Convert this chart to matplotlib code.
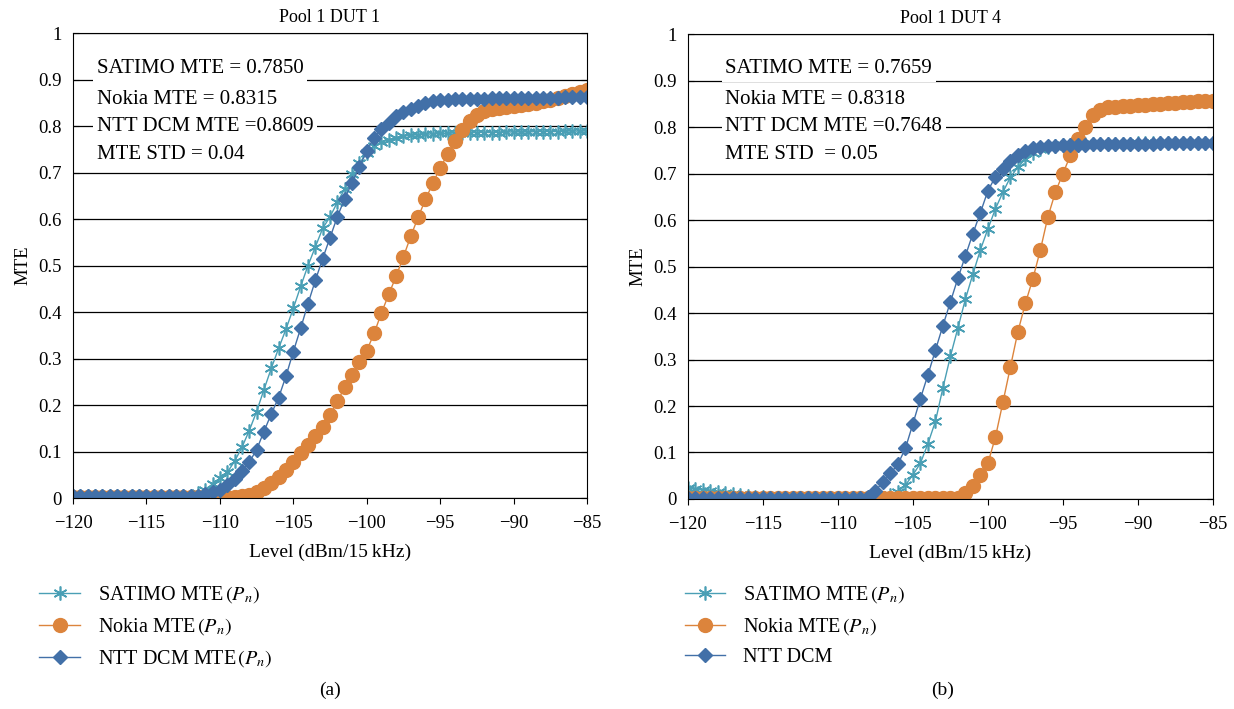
import numpy as np
import matplotlib
matplotlib.use("Agg")
import matplotlib.pyplot as plt
from matplotlib.ticker import FuncFormatter

plt.rcParams['font.family'] = ['Liberation Serif', 'DejaVu Serif']
plt.rcParams['mathtext.fontset'] = 'stix'

# level axis, 0.5 dB steps
level = np.arange(-120, -84.9, 0.5)

# (a) Pool 1 DUT 1
sat_a = [0.005] * 17 + [
    0.01, 0.018, 0.03, 0.042, 0.055, 0.079, 0.109, 0.145, 0.186, 0.233,
    0.279, 0.322, 0.363, 0.408, 0.455, 0.50, 0.54, 0.58, 0.605, 0.636,
    0.665, 0.697, 0.72, 0.742, 0.756, 0.765, 0.771, 0.775, 0.778, 0.78,
    0.781, 0.782, 0.783, 0.784] + [
    0.784, 0.785, 0.785, 0.785, 0.786, 0.786, 0.786, 0.786, 0.787, 0.787,
    0.787, 0.787, 0.788, 0.788, 0.788, 0.788, 0.789, 0.789, 0.789, 0.789]
nok_a = [0.002] * 23 + [
    0.004, 0.007, 0.013, 0.022, 0.032, 0.045, 0.06, 0.078, 0.096, 0.114,
    0.134, 0.153, 0.178, 0.208, 0.238, 0.265, 0.292, 0.317, 0.354, 0.398,
    0.438, 0.477, 0.519, 0.563, 0.604, 0.642, 0.677, 0.71, 0.739, 0.767,
    0.792, 0.81, 0.824, 0.832] + [
    0.836, 0.839, 0.841, 0.843, 0.845, 0.847, 0.85, 0.853, 0.857, 0.861,
    0.865, 0.869, 0.873, 0.877]
ntt_a = [0.005] * 18 + [
    0.008, 0.012, 0.018, 0.028, 0.04, 0.057, 0.077, 0.104, 0.143, 0.181,
    0.216, 0.262, 0.315, 0.365, 0.418, 0.468, 0.515, 0.56, 0.605, 0.644,
    0.678, 0.712, 0.746, 0.775, 0.793, 0.807, 0.821, 0.83, 0.837, 0.844,
    0.849, 0.853, 0.856] + [
    0.857, 0.858, 0.858, 0.859, 0.859, 0.859, 0.86, 0.86, 0.86, 0.86,
    0.86, 0.861, 0.861, 0.861, 0.861, 0.861, 0.862, 0.862, 0.862, 0.862]

# (b) Pool 1 DUT 4
sat_b = [0.023, 0.021, 0.019, 0.017, 0.015, 0.013, 0.011, 0.009, 0.007, 0.005,
         0.004, 0.003, 0.003] + [0.002] * 14 + [
    0.008, 0.016, 0.03, 0.052, 0.077, 0.119, 0.167, 0.239, 0.307, 0.368,
    0.43, 0.484, 0.536, 0.581, 0.624, 0.66, 0.692, 0.714, 0.731, 0.745,
    0.753, 0.757, 0.759, 0.761] + [
    0.762, 0.762, 0.763, 0.763, 0.763, 0.764, 0.764, 0.764, 0.764, 0.765,
    0.765, 0.765, 0.765, 0.765, 0.766, 0.766, 0.766, 0.766, 0.766, 0.766]
nok_b = [0.002] * 36 + [
    0.003, 0.012, 0.028, 0.052, 0.077, 0.133, 0.208, 0.284, 0.36, 0.421,
    0.474, 0.536, 0.607, 0.66, 0.70, 0.739, 0.774, 0.801, 0.825, 0.837,
    0.842] + [
    0.844, 0.845, 0.846, 0.847, 0.848, 0.849, 0.85, 0.851, 0.852, 0.853,
    0.854, 0.855, 0.856, 0.857]
ntt_b = [0.002] * 24 + [
    0.004, 0.018, 0.036, 0.055, 0.075, 0.109, 0.162, 0.216, 0.267, 0.32,
    0.373, 0.424, 0.475, 0.523, 0.571, 0.616, 0.663, 0.693, 0.71, 0.727,
    0.74, 0.749, 0.754, 0.757, 0.759, 0.76, 0.761] + [
    0.762, 0.762, 0.762, 0.763, 0.763, 0.763, 0.763, 0.764, 0.764, 0.764,
    0.764, 0.764, 0.765, 0.765, 0.765, 0.765, 0.765, 0.765, 0.765, 0.765]

titles = ["Pool 1 DUT 1", "Pool 1 DUT 4"]
notes_a = ["SATIMO MTE = 0.7850", "Nokia MTE = 0.8315",
           "NTT DCM MTE =0.8609", "MTE STD = 0.04"]
notes_b = ["SATIMO MTE = 0.7659", "Nokia MTE = 0.8318",
           "NTT DCM MTE =0.7648", "MTE STD  = 0.05"]
labels_a = ["SATIMO MTE$\\,(P_n)$", "Nokia MTE$\\,(P_n)$", "NTT DCM MTE$\\,(P_n)$"]
labels_b = ["SATIMO MTE$\\,(P_n)$", "Nokia MTE$\\,(P_n)$", "NTT DCM"]

c_sat = '#4a9fb5'
c_nok = '#dc843c'
c_ntt = '#4270a8'

fig = plt.figure(figsize=(12.34, 7.09), dpi=100)
ax1 = fig.add_axes([0.0592, 0.2976, 0.4165, 0.6558])
ax2 = fig.add_axes([0.5575, 0.2962, 0.4254, 0.6558])


def draw(ax, sat, nok, ntt, title, notes, labels, tx, ty, leg_x):
    l1, = ax.plot(level, sat, color=c_sat, lw=1, marker=(6, 2, 0), ms=10,
                  mew=1.2, label=labels[0])
    l2, = ax.plot(level, nok, color=c_nok, lw=1, marker='o', ms=10,
                  mec=c_nok, label=labels[1])
    l3, = ax.plot(level, ntt, color=c_ntt, lw=1, marker='D', ms=7.5,
                  mec=c_ntt, label=labels[2])
    ax.set_xlim(-120, -85)
    ax.set_ylim(0, 1)
    ax.set_xticks(np.arange(-120, -84, 5))
    ax.set_yticks(np.arange(0, 1.01, 0.1))
    ax.yaxis.set_major_formatter(FuncFormatter(lambda v, p: '{:g}'.format(round(v, 1))))
    ax.grid(axis='y', color='black', lw=0.9)
    ax.set_axisbelow(True)
    ax.tick_params(axis='x', labelsize=13.5, direction='out', length=4, pad=8)
    ax.tick_params(axis='y', labelsize=13.5, direction='in', length=4, pad=8,
                   right=True)
    ax.set_title(title, fontsize=13, pad=8)
    ax.set_ylabel("MTE", fontsize=13.5, labelpad=5)
    ax.set_xlabel("Level (dBm/15\u2009kHz)", fontsize=14, labelpad=9)
    for t, y in zip(notes, ty):
        ax.text(tx, y, t, fontsize=15, va='center', ha='left',
                bbox=dict(facecolor='white', edgecolor='none', pad=2.5))
    leg = ax.legend(handles=[l1, l2, l3], loc='upper left', frameon=False,
                    bbox_to_anchor=(leg_x, 0.176), bbox_transform=fig.transFigure,
                    fontsize=14.5, handlelength=2.0, handletextpad=0.9,
                    labelspacing=0.55, borderpad=0, borderaxespad=0)
    return leg


draw(ax1, sat_a, nok_a, ntt_a, titles[0], notes_a, labels_a,
     -118.4, [0.923, 0.858, 0.800, 0.738], 0.032)
draw(ax2, sat_b, nok_b, ntt_b, titles[1], notes_b, labels_b,
     -117.5, [0.925, 0.860, 0.802, 0.740], 0.555)

fig.text(330 / 1234, 1 - 690 / 709, "(a)", fontsize=14, ha='center', va='center')
fig.text(943 / 1234, 1 - 690 / 709, "(b)", fontsize=14, ha='center', va='center')

fig.savefig("out.png", dpi=100)
